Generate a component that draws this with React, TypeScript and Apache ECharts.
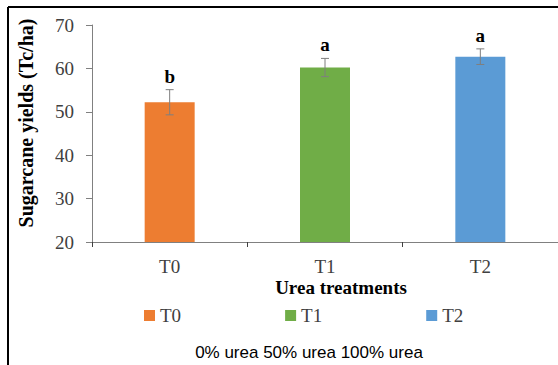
import React, { useEffect, useRef } from "react";
import * as echarts from "echarts";

const categories = ["T0", "T1", "T2"];
const means = [52.2, 60.2, 62.7];
const errors = [2.9, 2.1, 1.8];
const letters = ["b", "a", "a"];
const seriesColors = ["#ED7D31", "#70AD47", "#5B9BD5"];
const yTicks = { min: 20, max: 70, interval: 10 };
const yTitle = "Sugarcane yields (Tc/ha)";
const xTitle = "Urea treatments";
const note = "0% urea 50% urea 100% urea";

const SERIF = "'Liberation Serif', 'Times New Roman', serif";
const SANS = "'Liberation Sans', Arial, sans-serif";

export default function App() {
  const ref = useRef<HTMLDivElement>(null);
  useEffect(() => {
    document.body.style.margin = "0";
    if (!ref.current) return;
    const chart = echarts.init(ref.current, undefined, { renderer: "svg" });

    const barSeries = categories.map((name, i) => ({
      name,
      type: "bar",
      barWidth: 50,
      barGap: "-100%",
      itemStyle: { color: seriesColors[i] },
      data: categories.map((_, j) => (j === i ? means[j] : "-")),
    }));

    const errSeries = {
      type: "custom",
      silent: true,
      z: 10,
      data: categories.map((_, i) => [i, means[i], errors[i]]),
      renderItem: (params: any, api: any) => {
        const idx = api.value(0);
        const m = api.value(1);
        const e = api.value(2);
        const top = api.coord([idx, m + e]);
        const bot = api.coord([idx, m - e]);
        const x = top[0];
        const cap = 4;
        const stroke = { stroke: "#7F7F7F", lineWidth: 1 };
        return {
          type: "group",
          children: [
            { type: "line", shape: { x1: x, y1: top[1], x2: x, y2: bot[1] }, style: stroke },
            { type: "line", shape: { x1: x - cap, y1: top[1], x2: x + cap, y2: top[1] }, style: stroke },
            { type: "line", shape: { x1: x - cap, y1: bot[1], x2: x + cap, y2: bot[1] }, style: stroke },
            {
              type: "text",
              style: {
                text: letters[params.dataIndex],
                x: x,
                y: top[1] - 4,
                align: "center",
                verticalAlign: "bottom",
                fontFamily: SERIF,
                fontWeight: "bold",
                fontSize: 19,
                fill: "#000",
              },
            },
          ],
        };
      },
    };

    chart.setOption({
      animation: false,
      grid: { left: 92, right: -4, top: 25, bottom: 123 },
      legend: {
        data: categories,
        left: 144,
        top: 306,
        padding: 0,
        icon: "rect",
        itemWidth: 11,
        itemHeight: 11,
        itemGap: 104,
        textStyle: { fontFamily: SERIF, fontSize: 19, color: "#404040" },
      },
      xAxis: {
        type: "category",
        data: categories,
        axisLine: { lineStyle: { color: "#808080", width: 1 } },
        axisTick: { show: true, length: 5, lineStyle: { color: "#404040" } },
        axisLabel: { fontFamily: SERIF, fontSize: 19, color: "#404040", margin: 15 },
      },
      yAxis: {
        type: "value",
        min: yTicks.min,
        max: yTicks.max,
        interval: yTicks.interval,
        splitLine: { show: false },
        axisLine: { show: true, lineStyle: { color: "#808080", width: 1 } },
        axisTick: { show: true, length: 6, lineStyle: { color: "#808080" } },
        axisLabel: { fontFamily: SERIF, fontSize: 19, color: "#404040", margin: 18 },
      },
      graphic: [
        { type: "line", shape: { x1: 8, y1: 7, x2: 558, y2: 7 }, style: { stroke: "#000", lineWidth: 2 } },
        { type: "line", shape: { x1: 8, y1: 7, x2: 8, y2: 365 }, style: { stroke: "#000", lineWidth: 2 } },
        {
          type: "text",
          x: 26,
          y: 123,
          rotation: Math.PI / 2,
          style: {
            text: yTitle,
            align: "center",
            verticalAlign: "middle",
            fontFamily: SERIF,
            fontWeight: "bold",
            fontSize: 20,
            fill: "#000",
          },
        },
        {
          type: "text",
          x: 341,
          y: 287,
          style: {
            text: xTitle,
            align: "center",
            verticalAlign: "middle",
            fontFamily: SERIF,
            fontWeight: "bold",
            fontSize: 19,
            fill: "#000",
          },
        },
        {
          type: "text",
          x: 309,
          y: 352,
          style: {
            text: note,
            align: "center",
            verticalAlign: "middle",
            fontFamily: SANS,
            fontSize: 17,
            fill: "#000",
          },
        },
      ],
      series: [...barSeries, errSeries],
    });
    return () => chart.dispose();
  }, []);
  return <div ref={ref} style={{ width: 558, height: 365 }} />;
}
